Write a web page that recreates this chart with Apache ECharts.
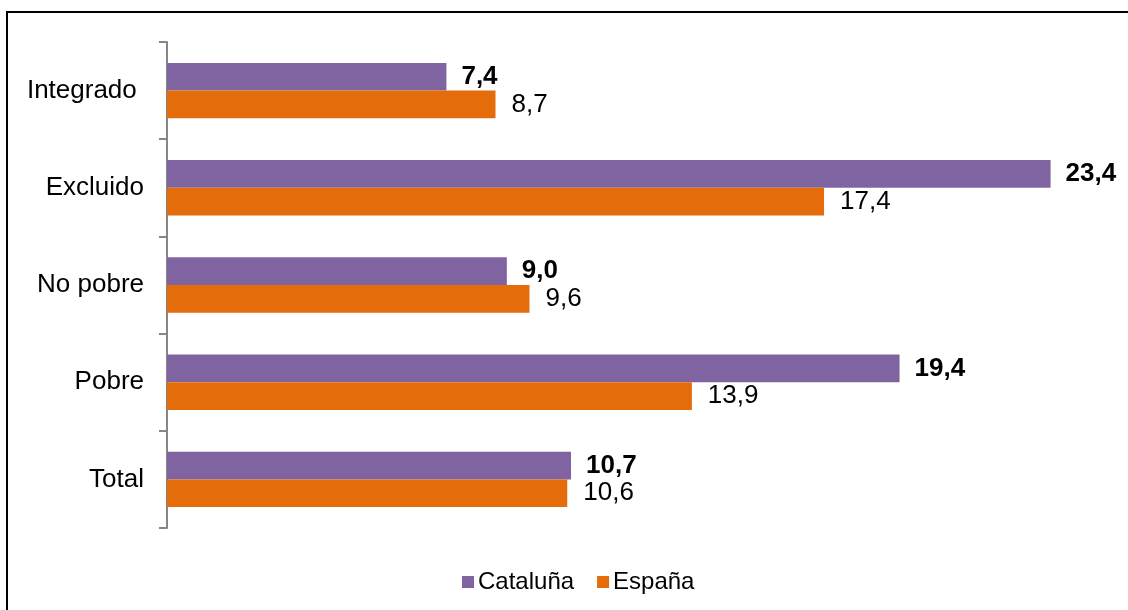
<!DOCTYPE html>
<html>
<head>
<meta charset="utf-8">
<script src="https://cdn.jsdelivr.net/npm/echarts@6/dist/echarts.min.js"></script>
<style>
html,body{margin:0;padding:0;background:#fff;}
#chart{width:1128px;height:610px;}
</style>
</head>
<body>
<div id="chart"></div>
<script>
const categories = ['Integrado ', 'Excluido', 'No pobre', 'Pobre', 'Total'];
const cataluna = [7.4, 23.4, 9.0, 19.4, 10.7];
const espana = [8.7, 17.4, 9.6, 13.9, 10.6];
const seriesNames = ['Cataluña', 'España'];

const fmt = p => p.value.toFixed(1).replace('.', ',');
const FONT = 'Liberation Sans, Arial, sans-serif';
const chart = echarts.init(document.getElementById('chart'));
chart.setOption({
  animation: false,
  backgroundColor: '#ffffff',
  textStyle: {fontFamily: FONT},
  graphic: [{
    type: 'rect', shape: {x: 7, y: 12, width: 1140, height: 620},
    style: {fill: 'none', stroke: '#000', lineWidth: 2}, silent: true
  }],
  grid: {left: 167, right: 17, top: 42, bottom: 82, containLabel: false},
  legend: {
    data: seriesNames, left: 457, top: 565, icon: 'rect',
    itemWidth: 12, itemHeight: 12, itemGap: 23,
    textStyle: {fontSize: 24, color: '#000', fontFamily: FONT, padding: [0,0,0,-1]}
  },
  xAxis: {
    type: 'value', min: 0, max: 25, show: false
  },
  yAxis: {
    type: 'category', data: categories, inverse: true,
    axisLine: {show: true, lineStyle: {color: '#868686', width: 2}},
    axisTick: {show: true, length: 8, lineStyle: {color: '#868686', width: 2}},
    axisLabel: {fontSize: 26, color: '#000', margin: 23, fontFamily: FONT},
    splitLine: {show: false}
  },
  series: [
    {
      name: seriesNames[0], type: 'bar', data: cataluna, barWidth: 27.7, barGap: '0%',
      itemStyle: {color: '#8064A2'},
      label: {show: true, position: 'right', distance: 15, formatter: fmt,
        fontSize: 26, fontWeight: 'bold', color: '#000', fontFamily: FONT}
    },
    {
      name: seriesNames[1], type: 'bar', data: espana, barWidth: 27.7, barGap: '0%',
      itemStyle: {color: '#E46C0A'},
      label: {show: true, position: 'right', distance: 16, formatter: fmt,
        fontSize: 26, color: '#000', fontFamily: FONT}
    }
  ]
});
</script>
</body>
</html>
